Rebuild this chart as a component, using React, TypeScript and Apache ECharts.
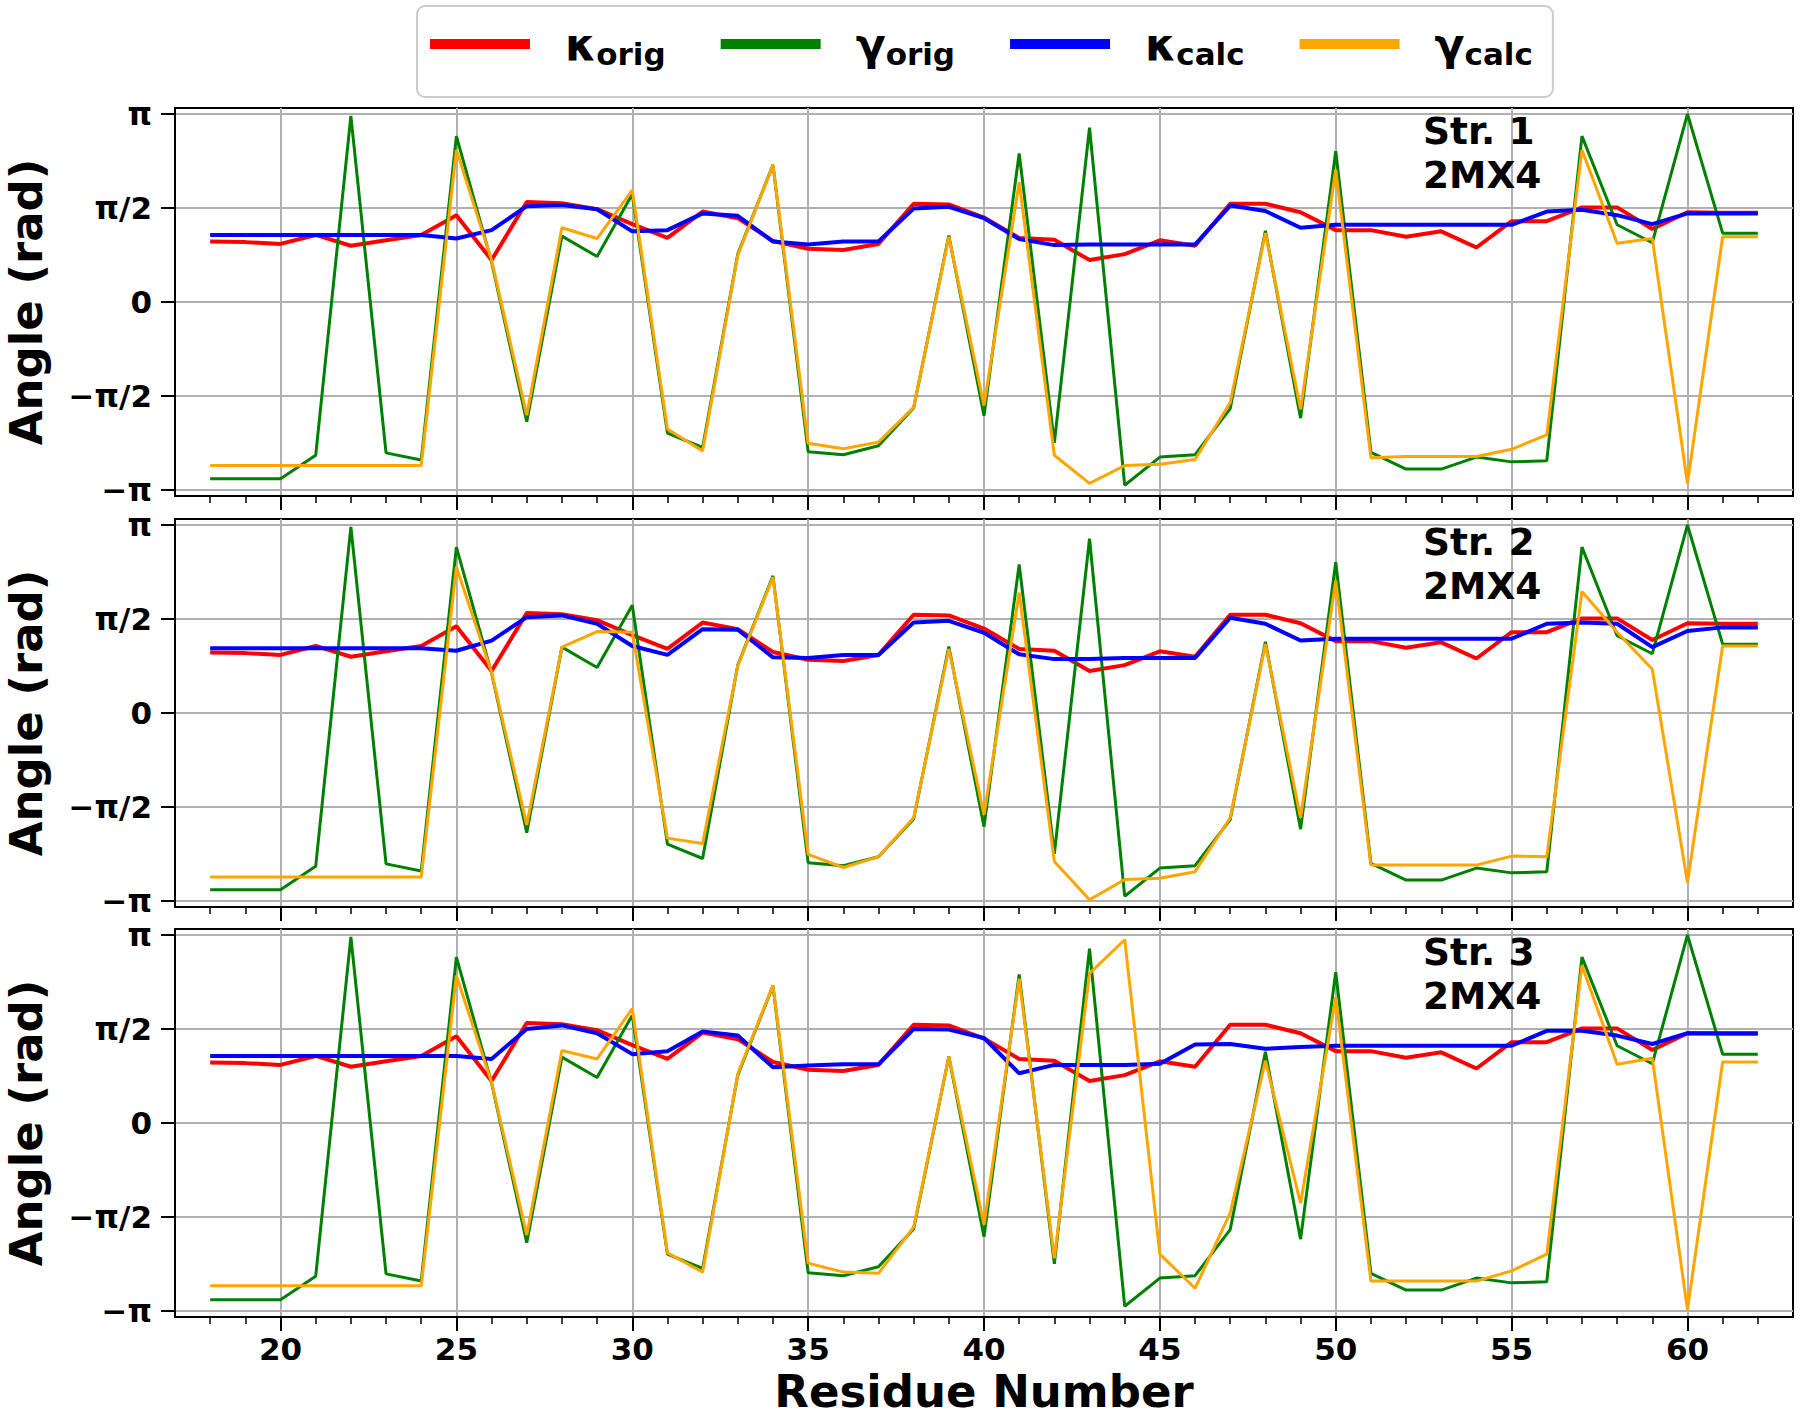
import React, { useEffect, useRef } from "react";
import * as echarts from "echarts";

const residues = [18, 19, 20, 21, 22, 23, 24, 25, 26, 27, 28, 29, 30, 31, 32, 33, 34, 35, 36, 37, 38, 39, 40, 41, 42, 43, 44, 45, 46, 47, 48, 49, 50, 51, 52, 53, 54, 55, 56, 57, 58, 59, 60, 61, 62];

const kappaOrig = [1.01, 1.0, 0.97, 1.12, 0.94, 1.03, 1.12, 1.45, 0.7, 1.67, 1.65, 1.55, 1.3, 1.07, 1.51, 1.4, 1.02, 0.89, 0.87, 0.97, 1.64, 1.63, 1.41, 1.07, 1.04, 0.7, 0.8, 1.03, 0.94, 1.64, 1.64, 1.5, 1.2, 1.2, 1.09, 1.18, 0.91, 1.35, 1.35, 1.58, 1.58, 1.22, 1.5, 1.49, 1.49];
const gammaOrig = [-2.95, -2.95, -2.95, -2.56, 3.11, -2.52, -2.64, 2.77, 0.67, -2.0, 1.1, 0.76, 1.8, -2.19, -2.43, 0.8, 2.29, -2.5, -2.55, -2.4, -1.77, 1.11, -1.9, 2.48, -2.35, 2.91, -3.06, -2.59, -2.55, -1.78, 1.19, -1.94, 2.52, -2.51, -2.79, -2.79, -2.59, -2.67, -2.65, 2.77, 1.29, 0.99, 3.14, 1.15, 1.15];

const kappaCalc1 = [1.12, 1.12, 1.12, 1.12, 1.12, 1.12, 1.12, 1.06, 1.2, 1.6, 1.62, 1.55, 1.18, 1.2, 1.48, 1.44, 1.01, 0.96, 1.01, 1.01, 1.56, 1.59, 1.4, 1.05, 0.95, 0.96, 0.96, 0.96, 0.96, 1.61, 1.52, 1.24, 1.29, 1.29, 1.29, 1.29, 1.29, 1.29, 1.51, 1.54, 1.45, 1.3, 1.48, 1.48, 1.48];
const gammaCalc1 = [-2.73, -2.73, -2.73, -2.73, -2.73, -2.73, -2.73, 2.54, 0.7, -1.89, 1.24, 1.06, 1.87, -2.12, -2.49, 0.78, 2.29, -2.36, -2.45, -2.34, -1.76, 1.09, -1.73, 2.0, -2.56, -3.03, -2.73, -2.71, -2.63, -1.68, 1.15, -1.79, 2.21, -2.6, -2.58, -2.58, -2.58, -2.46, -2.22, 2.54, 0.98, 1.06, -3.03, 1.09, 1.09];

const kappaCalc2 = [1.08, 1.08, 1.08, 1.08, 1.08, 1.08, 1.08, 1.04, 1.21, 1.6, 1.63, 1.49, 1.12, 0.97, 1.4, 1.39, 0.93, 0.92, 0.97, 0.97, 1.51, 1.54, 1.34, 0.98, 0.9, 0.9, 0.92, 0.92, 0.92, 1.59, 1.49, 1.21, 1.24, 1.24, 1.24, 1.24, 1.24, 1.24, 1.49, 1.51, 1.49, 1.1, 1.37, 1.43, 1.43];
const gammaCalc2 = [-2.74, -2.74, -2.74, -2.74, -2.74, -2.74, -2.74, 2.44, 0.68, -1.87, 1.1, 1.36, 1.35, -2.09, -2.18, 0.79, 2.27, -2.36, -2.58, -2.4, -1.75, 1.07, -1.7, 2.01, -2.48, -3.12, -2.78, -2.76, -2.65, -1.75, 1.15, -1.75, 2.21, -2.54, -2.54, -2.54, -2.54, -2.39, -2.4, 2.03, 1.35, 0.73, -2.83, 1.12, 1.12];

const kappaCalc3 = [1.12, 1.12, 1.12, 1.12, 1.12, 1.12, 1.12, 1.12, 1.07, 1.57, 1.63, 1.5, 1.15, 1.2, 1.53, 1.46, 0.93, 0.96, 0.98, 0.98, 1.57, 1.56, 1.42, 0.83, 0.97, 0.97, 0.97, 0.99, 1.31, 1.32, 1.24, 1.27, 1.29, 1.29, 1.29, 1.29, 1.29, 1.29, 1.54, 1.54, 1.46, 1.32, 1.5, 1.5, 1.5];
const gammaCalc3 = [-2.72, -2.72, -2.72, -2.72, -2.72, -2.72, -2.72, 2.46, 0.68, -1.87, 1.21, 1.07, 1.91, -2.17, -2.49, 0.82, 2.3, -2.34, -2.49, -2.51, -1.74, 1.11, -1.7, 2.41, -2.26, 2.5, 3.06, -2.19, -2.76, -1.5, 1.04, -1.34, 2.1, -2.64, -2.64, -2.64, -2.64, -2.47, -2.19, 2.63, 0.98, 1.08, -3.12, 1.02, 1.02];

const yTickValues = [-Math.PI, -Math.PI / 2, 0, Math.PI / 2, Math.PI];
const yTickLabels = ["−π", "−π/2", "0", "π/2", "π"];
const xMajorTicks = [20, 25, 30, 35, 40, 45, 50, 55, 60];
const xMinorTicks = [18, 19, 20, 21, 22, 23, 24, 25, 26, 27, 28, 29, 30, 31, 32, 33, 34, 35, 36, 37, 38, 39, 40, 41, 42, 43, 44, 45, 46, 47, 48, 49, 50, 51, 52, 53, 54, 55, 56, 57, 58, 59, 60, 61, 62];
const panelLabels = ["Str. 1\n2MX4", "Str. 2\n2MX4", "Str. 3\n2MX4"];
const seriesNames = ["κorig", "γorig", "κcalc", "γcalc"];
const legendMain = ["κ", "γ", "κ", "γ"];
const legendSub = ["orig", "orig", "calc", "calc"];
const seriesColors = ["#ff0000", "#008000", "#0000ff", "#ffa500"];
const seriesWidths = [4, 3, 4, 3];

const panels = [
  [kappaOrig, gammaOrig, kappaCalc1, gammaCalc1],
  [kappaOrig, gammaOrig, kappaCalc2, gammaCalc2],
  [kappaOrig, gammaOrig, kappaCalc3, gammaCalc3],
];

const FONT = "DejaVu Sans";
const gridTops = [108, 519, 929];
const gridHeight = 388;
const gridLeft = 175;
const gridWidth = 1618;

function buildOption() {
  const axisLineStyle = { color: "#000", width: 2 };
  const gridLineStyle = { color: "#b0b0b0", width: 2 };
  const grid = gridTops.map((t) => ({
    left: gridLeft,
    top: t,
    width: gridWidth,
    height: gridHeight,
    containLabel: false,
    outerBoundsMode: "none",
    show: true,
    borderColor: "#000",
    borderWidth: 2,
    backgroundColor: "transparent",
  }));
  const xAxis: any[] = [];
  const yAxis: any[] = [];
  const series: any[] = [];
  panels.forEach((arrs, i) => {
    const isLast = i === panels.length - 1;
    xAxis.push({
      type: "value",
      gridIndex: i,
      min: 17,
      max: 63,
      position: "bottom",
      axisLine: { show: true, onZero: false, lineStyle: axisLineStyle },
      axisTick: { show: true, customValues: xMajorTicks, length: 14, lineStyle: { color: "#000", width: 2 } },
      axisLabel: {
        show: isLast,
        customValues: xMajorTicks,
        fontFamily: FONT,
        fontSize: 31,
        fontWeight: "bold",
        color: "#000",
        margin: 16,
      },
      splitLine: { show: true, lineStyle: gridLineStyle },
      name: isLast ? "Residue Number" : "",
      nameLocation: "middle",
      nameGap: 52,
      nameTextStyle: { fontFamily: FONT, fontSize: 45, fontWeight: "bold", color: "#000" },
    });
    xAxis.push({
      type: "value",
      gridIndex: i,
      min: 17,
      max: 63,
      position: "bottom",
      axisLine: { show: false, onZero: false },
      axisTick: { show: true, customValues: xMinorTicks, length: 7, lineStyle: { color: "#000", width: 1.5 } },
      axisLabel: { show: false },
      splitLine: { show: false },
    });
    yAxis.push({
      type: "value",
      gridIndex: i,
      min: -3.24,
      max: 3.24,
      position: "left",
      axisLine: { show: true, onZero: false, lineStyle: axisLineStyle },
      axisTick: { show: true, customValues: yTickValues, length: 14, lineStyle: { color: "#000", width: 2 } },
      axisLabel: {
        customValues: yTickValues,
        formatter: (v: number) => yTickLabels[Math.round(v / (Math.PI / 2)) + 2],
        fontFamily: FONT,
        fontSize: 31,
        fontWeight: "bold",
        color: "#000",
        margin: 23,
      },
      splitLine: { show: true, lineStyle: gridLineStyle },
      name: "Angle (rad)",
      nameLocation: "middle",
      nameGap: 126,
      nameTextStyle: { fontFamily: FONT, fontSize: 45, fontWeight: "bold", color: "#000" },
    });
    arrs.forEach((arr, k) => {
      series.push({
        type: "line",
        name: seriesNames[k],
        xAxisIndex: i * 2,
        yAxisIndex: i,
        data: residues.map((r, j) => [r, arr[j]]),
        showSymbol: false,
        symbol: "none",
        color: seriesColors[k],
        lineStyle: { color: seriesColors[k], width: seriesWidths[k] },
        z: 2 + k,
      });
    });
  });

  const graphic = panelLabels.map((t, i) => ({
    type: "text",
    left: 1423,
    top: gridTops[i] + 1.5,
    z: 100,
    style: {
      text: t,
      fontFamily: FONT,
      fontSize: 37.5,
      fontWeight: "bold",
      fill: "#000",
      lineHeight: 43.8,
    },
  }));

  return {
    animation: false,
    backgroundColor: "#fff",
    grid,
    xAxis,
    yAxis,
    series,
    graphic,
    legend: {
      data: seriesNames,
      left: 417,
      top: 6,
      orient: "horizontal",
      icon: "rect",
      itemWidth: 100,
      itemHeight: 10,
      itemGap: 55,
      selectedMode: false,
      padding: [16, 20, 28, 13],
      backgroundColor: "#fff",
      borderColor: "#cccccc",
      borderWidth: 2,
      borderRadius: 8,
      itemStyle: { borderWidth: 0 },
      formatter: (name: string) => {
        const idx = seriesNames.indexOf(name);
        return `{g| }{m|${legendMain[idx]}}{s|${legendSub[idx]}}`;
      },
      textStyle: {
        rich: {
          g: { width: 30 },
          m: { fontFamily: FONT, fontSize: 44, fontWeight: "bold", color: "#000", lineHeight: 50 },
          s: { fontFamily: FONT, fontSize: 31, fontWeight: "bold", color: "#000", verticalAlign: "bottom", lineHeight: 28 },
        },
      },
    },
  };
}

export default function App() {
  const ref = useRef<HTMLDivElement>(null);
  useEffect(() => {
    document.body.style.margin = "0";
    if (!ref.current) return;
    const chart = echarts.init(ref.current, undefined, { renderer: "svg" });
    chart.setOption(buildOption() as any);
    return () => {
      chart.dispose();
    };
  }, []);
  return <div ref={ref} style={{ width: 1800, height: 1418 }} />;
}
